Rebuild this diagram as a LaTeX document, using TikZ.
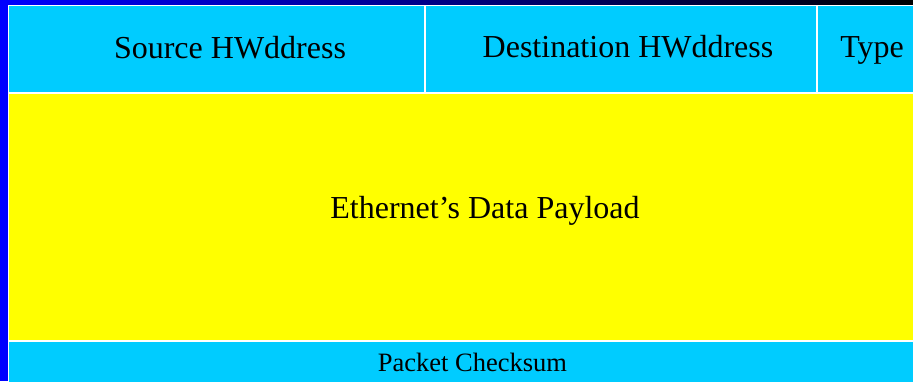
\documentclass[tikz,border=0pt]{standalone}
\usepackage{fontspec}
\setmainfont{Liberation Serif}
\definecolor{fieldcyan}{HTML}{00CCFF}
\definecolor{payyellow}{HTML}{FFFF00}
\definecolor{edgeblue}{HTML}{0000FF}
\begin{document}
\begin{tikzpicture}[x=1pt, y=-1pt,
    field/.style={draw=white, line width=1.2pt, anchor=north west, inner sep=0pt, outer sep=0pt},
    hdr/.style={field, fill=fieldcyan, minimum height=87.5pt},
    lbl/.style={anchor=base, inner sep=0pt, font=\fontsize{32}{36}\selectfont},
    smalllbl/.style={anchor=base, inner sep=0pt, font=\fontsize{26.5}{30}\selectfont}
]

    \clip (0,0) rectangle (913,381);

    % backdrop
    \fill[edgeblue] (0,0) rectangle (913,381);
    \shade[left color=edgeblue, right color=black] (0,0) rectangle (913,5);

    % header row
    \node[hdr, minimum width=416.5pt] (Src) at (8.5,5.5) {};
    \node[hdr, minimum width=392pt] (Dst) at (Src.north east) {};
    \node[hdr, minimum width=110pt] (Typ) at (Dst.north east) {};

    % payload
    \node[field, fill=payyellow, minimum width=920pt, minimum height=248pt] (Pay) at (Src.south west) {};

    % trailer
    \node[field, fill=fieldcyan, minimum width=920pt, minimum height=45pt] (Sum) at (Pay.south west) {};

    % texts
    \node[lbl] (SrcT) at (230,58) {Source HWddress};
    \node[lbl] (DstT) at (628,57) {Destination HWddress};
    \node[lbl] (TypT) at (872,57) {Type};
    \node[lbl] (PayT) at (485,218) {Ethernet's Data Payload};
    \node[smalllbl] (SumT) at (472.5,371) {Packet Checksum};

\end{tikzpicture}
\end{document}
